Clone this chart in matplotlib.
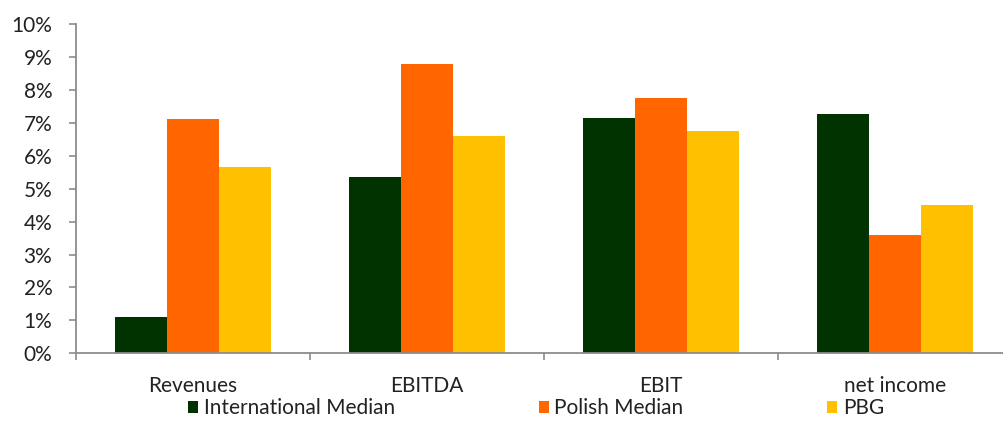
import matplotlib
matplotlib.use("Agg")
import matplotlib.pyplot as plt
import numpy as np
from matplotlib.ticker import FixedLocator, PercentFormatter

plt.rcParams["font.family"] = ["Lato", "DejaVu Sans"]

categories = ["Revenues", "EBITDA", "EBIT", "net income"]
series_names = ["International Median", "Polish Median", "PBG"]
international = [1.1, 5.35, 7.15, 7.28]
polish = [7.13, 8.8, 7.74, 3.58]
pbg = [5.66, 6.61, 6.75, 4.49]
colors = ["#003300", "#FF6600", "#FFC000"]

fig = plt.figure(figsize=(10.04, 4.21), dpi=100)
ax = fig.add_axes([76 / 1004, 67.7 / 421, 936 / 1004, 329.3 / 421])

x = np.arange(len(categories))
width = 0.222
for i, (vals, name, col) in enumerate(zip([international, polish, pbg], series_names, colors)):
    ax.bar(x + (i - 1) * width, vals, width, color=col, label=name, linewidth=0)

ax.set_xlim(-0.5, 3.5)
ax.set_ylim(0, 10)
ax.set_yticks(np.arange(0, 11, 1))
ax.yaxis.set_major_formatter(PercentFormatter(decimals=0))
ax.set_xticks(x)
ax.set_xticklabels(categories)
ax.xaxis.set_minor_locator(FixedLocator(np.arange(-0.5, 4, 1.0)))

gray = "#8c8c8c"
for side in ["top", "right"]:
    ax.spines[side].set_visible(False)
for side in ["left", "bottom"]:
    ax.spines[side].set_color(gray)
    ax.spines[side].set_linewidth(1.3)

ax.tick_params(axis="y", length=5, width=1.2, color=gray, pad=12, labelsize=15, labelcolor="#222222")
ax.tick_params(axis="x", which="major", length=0, pad=16, labelsize=15, labelcolor="#222222")
ax.tick_params(axis="x", which="minor", length=5, width=1.2, color=gray)

fig.legend(loc="center", bbox_to_anchor=(536 / 1004, 1 - 408 / 421), ncol=3, frameon=False,
           fontsize=15, handlelength=0.5, handleheight=0.5, handletextpad=0.25,
           columnspacing=6.9, borderpad=0, labelcolor="#222222")

fig.savefig("out.png", dpi=100)
